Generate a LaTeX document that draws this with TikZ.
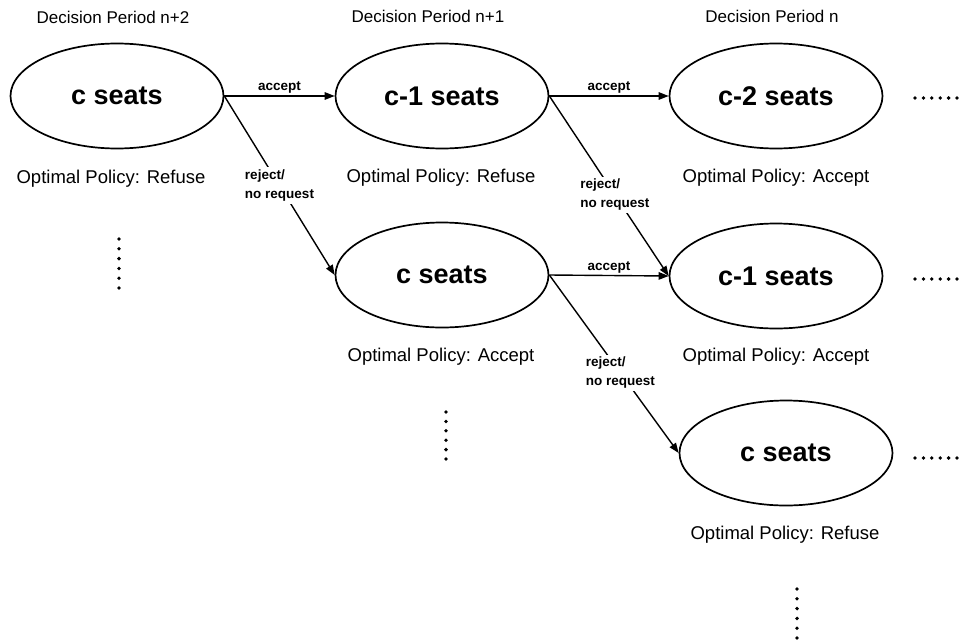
\documentclass[tikz,border=0pt]{standalone}
\usepackage{fontspec}
\setmainfont{Liberation Sans}
\usetikzlibrary{shapes.geometric,arrows.meta}
\begin{document}
\begin{tikzpicture}[x=1pt,y=-1pt,
  state/.style={ellipse, draw, line width=1.7pt, minimum width=213pt, minimum height=105pt, inner sep=0pt,
    font=\fontsize{27}{30}\selectfont\bfseries},
  head/.style={font=\fontsize{17}{20}\selectfont, inner sep=0pt},
  pol/.style={font=\fontsize{18.5}{21}\selectfont, inner sep=0pt},
  lab/.style={font=\fontsize{13.5}{19}\selectfont\bfseries, inner sep=2pt},
  rlab/.style={lab, fill=white, align=left, inner sep=2.5pt},
  arr/.style={line width=1.4pt, -{Triangle[length=10pt,width=7.5pt]}},
  dot/.style={fill=black}
]
\fill[white] (0,0) rectangle (961,643);
\useasboundingbox (0,0) rectangle (961,643);

% headers
\node[head] (h1) at (113,17) {Decision Period n+2};
\node[head] (h2) at (428,16) {Decision Period n+1};
\node[head] (h3) at (772,16) {Decision Period n};

% states
\node[state] (e1) at (117,96) {c seats};
\node[state] (e2) at (442,96) {c-1 seats};
\node[state] (e3) at (776,96) {c-2 seats};
\node[state] (e4) at (442,275) {c seats};
\node[state] (e5) at (776,276) {c-1 seats};
\node[state] (e6) at (786,453) {c seats};

% policies
\node[pol] (p1) at (111,179) {Optimal Policy: Refuse};
\node[pol] (p2) at (441,178) {Optimal Policy: Refuse};
\node[pol] (p3) at (776,178) {Optimal Policy: Accept};
\node[pol] (p4) at (441,357) {Optimal Policy: Accept};
\node[pol] (p5) at (776,357) {Optimal Policy: Accept};
\node[pol] (p6) at (785,535) {Optimal Policy: Refuse};

% transitions
\draw[arr] (e1.east) -- node[lab, above] {accept} (e2.west);
\draw[arr] (e1.east) -- node[rlab, pos=0.5] {reject/\\no request} (e4.west);
\draw[arr] (e2.east) -- node[lab, above] {accept} (e3.west);
\draw[arr] (e2.east) -- node[rlab, pos=0.55] {reject/\\no request} (e5.west);
\draw[arr] (e4.east) -- node[lab, above] {accept} (e5.west);
\draw[arr] (e4.east) -- node[rlab, pos=0.55] {reject/\\no request} (e6.west);

% vertical dots
\foreach \i in {0,...,5} {
  \fill[dot] (119,239+\i*9.8) circle[radius=1.9pt];
  \fill[dot] (446,412+\i*9.4) circle[radius=1.9pt];
  \fill[dot] (797,589+\i*9.8) circle[radius=1.9pt];
}
% horizontal dots
\foreach \i in {0,...,5} {
  \fill[dot] (915+\i*8.4,98) circle[radius=1.9pt];
  \fill[dot] (915+\i*8.4,279) circle[radius=1.9pt];
  \fill[dot] (915+\i*8.4,458) circle[radius=1.9pt];
}
\end{tikzpicture}
\end{document}
